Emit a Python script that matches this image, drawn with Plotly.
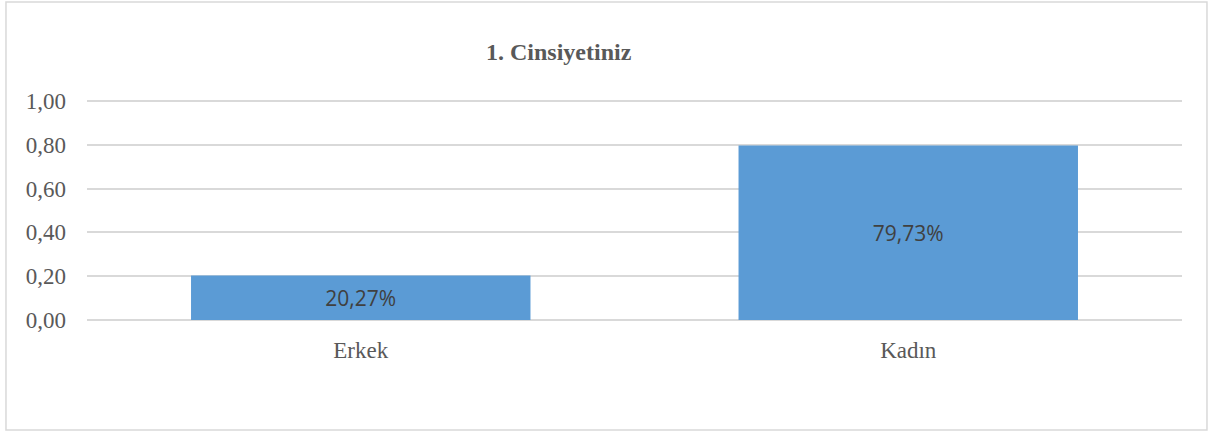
import plotly.graph_objects as go

categories = ["Erkek", "Kadın"]
values = [0.2027, 0.7973]
title_text = "1. Cinsiyetiniz"
tick_vals = [0.0, 0.2, 0.4, 0.6, 0.8, 1.0]

fig = go.Figure()
fig.add_trace(go.Bar(
    x=categories, y=values,
    marker=dict(color="#5b9bd5", line=dict(width=0)),
    texttemplate="%{y:.2%}",
    textposition="inside",
    insidetextanchor="middle",
    textangle=0,
    constraintext="none",
    textfont=dict(family="Open Sans", size=21, color="#404040"),
    hoverinfo="skip",
))

fig.update_layout(
    width=1213, height=434,
    separators=",.",
    paper_bgcolor="white", plot_bgcolor="white",
    margin=dict(l=87, r=31, t=97, b=114),
    bargap=0.38,
    showlegend=False,
    xaxis=dict(
        showgrid=False, showline=False, zeroline=False, ticks="",
        ticklabelstandoff=14,
        tickfont=dict(family="Liberation Serif", size=23, color="#595959"),
    ),
    yaxis=dict(
        range=[0, 1.0183], tickvals=tick_vals, tickformat=".2f",
        showgrid=True, gridcolor="#d9d9d9", gridwidth=1.5,
        zeroline=True, zerolinecolor="#d9d9d9", zerolinewidth=1.5,
        showline=False, ticks="", ticklabelstandoff=20,
        tickfont=dict(family="Liberation Serif", size=23, color="#595959"),
    ),
    annotations=[dict(
        text="<b>" + title_text + "</b>", xref="paper", yref="paper",
        x=0.4315, y=1.2, xanchor="center", yanchor="middle", showarrow=False,
        font=dict(family="Liberation Serif", size=24, color="#595959"),
    )],
    shapes=[dict(
        type="rect", xref="paper", yref="paper",
        x0=-0.074, x1=1.0228, y0=-0.493, y1=1.426,
        line=dict(color="#d9d9d9", width=1.5), fillcolor="rgba(0,0,0,0)", layer="below",
    )],
)

fig.write_html(
    "out.html",
    config={"displayModeBar": False},
    post_script="document.body.style.margin='0';document.body.style.overflow='hidden';",
)
